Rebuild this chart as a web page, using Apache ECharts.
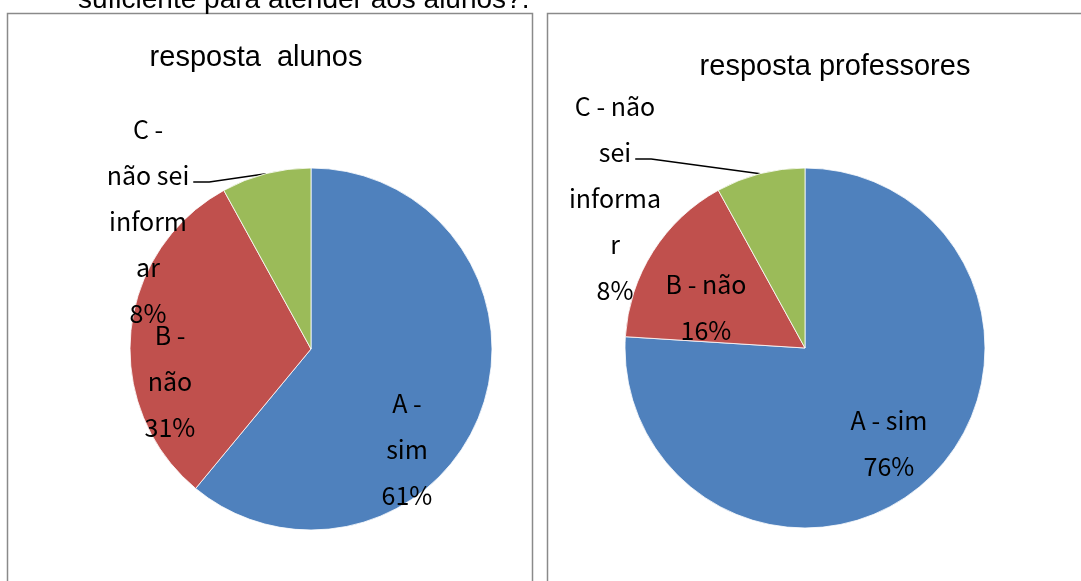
<!DOCTYPE html>
<html>
<head>
<meta charset="utf-8">
<script src="https://cdn.jsdelivr.net/npm/echarts@6/dist/echarts.min.js"></script>
<style>
html,body{margin:0;padding:0;background:#fff;}
#c{width:1081px;height:581px;}
</style>
</head>
<body>
<div id="c"></div>
<script>
// ---- data ----
var heading = 'suficiente para atender aos alunos?.';
var titleAlunos = 'resposta  alunos';
var titleProfessores = 'resposta professores';
var categories = ['A - sim', 'B - não', 'C - não sei informar'];
var valuesAlunos = [61, 31, 8];
var valuesProfessores = [76, 16, 8];
// wrapped label text as shown in the picture
var wrapAlunos = ['A -\nsim', 'B -\nnão', 'C -\nnão sei\ninform\nar'];
var wrapProfessores = ['A - sim', 'B - não', 'C - não\nsei\ninforma\nr'];

// ---- layout / style ----
var colors = ['#4F81BD', '#C0504D', '#9BBB59'];
var labelFontFamily = '"Noto Sans CJK KR", "Noto Sans", sans-serif';
var labelFontSize = 25;
var labelLineHeight = 46;
var pies = [
  { center: [311, 349], radius: 181, offsets: [[96, 100], [-141, 32], [-163, -128]], wrap: wrapAlunos, values: valuesAlunos },
  { center: [805, 348], radius: 180, offsets: [[84, 95], [-99, -41], [-190, -150]], wrap: wrapProfessores, values: valuesProfessores }
];
var leaderRow = 1; // row of the C label the leader line attaches to

var measureCtx = document.createElement('canvas').getContext('2d');
measureCtx.font = labelFontSize + 'px ' + labelFontFamily;

function makeSeries(p) {
  return {
    type: 'pie',
    center: p.center,
    radius: p.radius,
    startAngle: 90,
    clockwise: true,
    animation: false,
    silent: true,
    itemStyle: { borderColor: '#fff', borderWidth: 0.8 },
    label: {
      color: '#000',
      fontFamily: labelFontFamily,
      fontSize: labelFontSize,
      lineHeight: labelLineHeight,
      align: 'center',
      formatter: function (params) {
        return p.wrap[params.dataIndex] + '\n' + params.value + '%';
      }
    },
    data: categories.map(function (name, i) {
      var outside = i === 2;
      return {
        name: name,
        value: p.values[i],
        itemStyle: { color: colors[i] },
        label: { position: outside ? 'outside' : 'inside' },
        labelLine: { show: outside, lineStyle: { color: '#000', width: 1.5 }, length: 10, length2: 10 }
      };
    }),
    labelLayout: function (params) {
      var off = p.offsets[params.dataIndex];
      var cx = p.center[0] + off[0];
      var cy = p.center[1] + off[1];
      var res = { x: cx, y: cy, align: 'center', verticalAlign: 'middle' };
      if (params.dataIndex === 2 && params.labelLinePoints) {
        var rows = (p.wrap[2] + '\n' + p.values[2] + '%').split('\n');
        var rowY = cy - (rows.length / 2 - leaderRow - 0.5) * labelLineHeight + 7;
        var w = measureCtx.measureText(rows[leaderRow]).width;
        var x0 = cx + w / 2 + 4;
        var arcPt = params.labelLinePoints[0];
        res.labelLinePoints = [arcPt, [x0 + 16, rowY], [x0, rowY]];
      }
      return res;
    }
  };
}

var chart = echarts.init(document.getElementById('c'), null, { renderer: 'canvas' });
chart.setOption({
  backgroundColor: '#fff',
  animation: false,
  graphic: [
    { type: 'rect', shape: { x: 7.5, y: 13.5, width: 525, height: 620 }, style: { fill: 'none', stroke: '#8a8a8a', lineWidth: 1.5 }, z: -10 },
    { type: 'rect', shape: { x: 547.5, y: 13.5, width: 600, height: 620 }, style: { fill: 'none', stroke: '#8a8a8a', lineWidth: 1.5 }, z: -10 },
    { type: 'text', x: 78, y: 14, style: { text: heading, font: '28px "Liberation Sans", Arial, sans-serif', fill: '#000', align: 'left', verticalAlign: 'bottom' } },
    { type: 'text', x: 256, y: 58, style: { text: titleAlunos, font: '29px "Liberation Sans", Arial, sans-serif', fill: '#000', align: 'center', verticalAlign: 'middle' } },
    { type: 'text', x: 835, y: 67, style: { text: titleProfessores, font: '29px "Liberation Sans", Arial, sans-serif', fill: '#000', align: 'center', verticalAlign: 'middle' } }
  ],
  series: pies.map(makeSeries)
});
</script>
</body>
</html>
